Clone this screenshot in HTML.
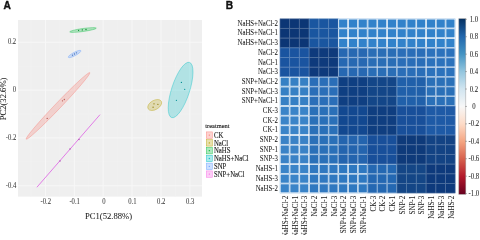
<!DOCTYPE html><html><head><meta charset="utf-8"><style>html,body{margin:0;padding:0;background:#fff;width:480px;height:235px;overflow:hidden}svg{display:block;will-change:transform}text{font-family:"Liberation Serif",serif}</style></head><body>
<svg width="480" height="235" viewBox="0 0 480 235">
<text transform="translate(3.6 8.5)" style="font-family:'Liberation Sans',sans-serif;font-weight:bold;font-size:10.2px" fill="#111" stroke="#111" stroke-width="0.35">A</text>
<rect x="18" y="20" width="184" height="176.6" fill="#EFEFEF"/>
<line x1="31.03" y1="20" x2="31.03" y2="196.6" stroke="#F3F3F3" stroke-width="0.5"/>
<line x1="59.90" y1="20" x2="59.90" y2="196.6" stroke="#F3F3F3" stroke-width="0.5"/>
<line x1="88.77" y1="20" x2="88.77" y2="196.6" stroke="#F3F3F3" stroke-width="0.5"/>
<line x1="117.64" y1="20" x2="117.64" y2="196.6" stroke="#F3F3F3" stroke-width="0.5"/>
<line x1="146.51" y1="20" x2="146.51" y2="196.6" stroke="#F3F3F3" stroke-width="0.5"/>
<line x1="175.38" y1="20" x2="175.38" y2="196.6" stroke="#F3F3F3" stroke-width="0.5"/>
<line x1="18" y1="66.20" x2="202" y2="66.20" stroke="#F3F3F3" stroke-width="0.5"/>
<line x1="18" y1="114.00" x2="202" y2="114.00" stroke="#F3F3F3" stroke-width="0.5"/>
<line x1="18" y1="161.80" x2="202" y2="161.80" stroke="#F3F3F3" stroke-width="0.5"/>
<line x1="45.46" y1="20" x2="45.46" y2="196.6" stroke="#F7F7F7" stroke-width="1"/>
<line x1="74.33" y1="20" x2="74.33" y2="196.6" stroke="#F7F7F7" stroke-width="1"/>
<line x1="103.20" y1="20" x2="103.20" y2="196.6" stroke="#F7F7F7" stroke-width="1"/>
<line x1="132.07" y1="20" x2="132.07" y2="196.6" stroke="#F7F7F7" stroke-width="1"/>
<line x1="160.94" y1="20" x2="160.94" y2="196.6" stroke="#F7F7F7" stroke-width="1"/>
<line x1="189.81" y1="20" x2="189.81" y2="196.6" stroke="#F7F7F7" stroke-width="1"/>
<line x1="18" y1="42.30" x2="202" y2="42.30" stroke="#F7F7F7" stroke-width="1"/>
<line x1="18" y1="90.10" x2="202" y2="90.10" stroke="#F7F7F7" stroke-width="1"/>
<line x1="18" y1="137.90" x2="202" y2="137.90" stroke="#F7F7F7" stroke-width="1"/>
<line x1="18" y1="185.70" x2="202" y2="185.70" stroke="#F7F7F7" stroke-width="1"/>
<ellipse cx="58.0" cy="105.9" rx="46.0" ry="2.9" transform="rotate(-46.3 58.0 105.9)" fill="#F8766D" fill-opacity="0.26" stroke="#F8766D" stroke-opacity="0.7" stroke-width="0.5"/>
<circle cx="64.3" cy="99.5" r="0.65" fill="#ba5851"/>
<circle cx="62.5" cy="100.8" r="0.65" fill="#ba5851"/>
<circle cx="47.2" cy="118.4" r="0.65" fill="#ba5851"/>
<ellipse cx="154.7" cy="105.0" rx="7.6" ry="4.6" transform="rotate(-30 154.7 105.0)" fill="#B79F00" fill-opacity="0.26" stroke="#B79F00" stroke-opacity="0.7" stroke-width="0.5"/>
<circle cx="154" cy="103.8" r="0.65" fill="#897700"/>
<circle cx="157.9" cy="104.3" r="0.65" fill="#897700"/>
<circle cx="153.1" cy="107.2" r="0.65" fill="#897700"/>
<ellipse cx="83.0" cy="30.0" rx="13.4" ry="1.5" transform="rotate(-8 83.0 30.0)" fill="#00BA38" fill-opacity="0.26" stroke="#00BA38" stroke-opacity="0.7" stroke-width="0.5"/>
<circle cx="78.6" cy="30.3" r="0.65" fill="#008b2a"/>
<circle cx="86" cy="29.5" r="0.65" fill="#008b2a"/>
<circle cx="82.3" cy="29.9" r="0.65" fill="#008b2a"/>
<ellipse cx="180.6" cy="90.0" rx="29.0" ry="9.0" transform="rotate(-72 180.6 90.0)" fill="#00BFC4" fill-opacity="0.26" stroke="#00BFC4" stroke-opacity="0.7" stroke-width="0.5"/>
<circle cx="181.4" cy="82.4" r="0.65" fill="#008f93"/>
<circle cx="184.7" cy="89.3" r="0.65" fill="#008f93"/>
<circle cx="176.4" cy="100.3" r="0.65" fill="#008f93"/>
<ellipse cx="74.6" cy="54.0" rx="7.1" ry="1.7" transform="rotate(-28 74.6 54.0)" fill="#619CFF" fill-opacity="0.26" stroke="#619CFF" stroke-opacity="0.7" stroke-width="0.5"/>
<circle cx="72.5" cy="55.2" r="0.65" fill="#4875bf"/>
<circle cx="76.5" cy="52.8" r="0.65" fill="#4875bf"/>
<circle cx="74.5" cy="54" r="0.65" fill="#4875bf"/>
<line x1="20.35" y1="150.95" x2="116.55" y2="150.95" transform="rotate(-49 68.45 150.95)" stroke="#DE62E4" stroke-opacity="0.95" stroke-width="0.8"/>
<circle cx="79" cy="139.5" r="0.65" fill="#a649ab"/>
<circle cx="60" cy="161" r="0.65" fill="#a649ab"/>
<circle cx="70" cy="149" r="0.65" fill="#a649ab"/>
<text transform="translate(45.76 203.60) scale(0.9 1)" font-size="7.4" fill="#3a3a3a" stroke="#3a3a3a" stroke-width="0.05" text-anchor="middle">-0.2</text>
<text transform="translate(74.63 203.60) scale(0.9 1)" font-size="7.4" fill="#3a3a3a" stroke="#3a3a3a" stroke-width="0.05" text-anchor="middle">-0.1</text>
<text transform="translate(104.00 203.60) scale(0.9 1)" font-size="7.4" fill="#3a3a3a" stroke="#3a3a3a" stroke-width="0.05" text-anchor="middle">0</text>
<text transform="translate(132.37 203.60) scale(0.9 1)" font-size="7.4" fill="#3a3a3a" stroke="#3a3a3a" stroke-width="0.05" text-anchor="middle">0.1</text>
<text transform="translate(161.24 203.60) scale(0.9 1)" font-size="7.4" fill="#3a3a3a" stroke="#3a3a3a" stroke-width="0.05" text-anchor="middle">0.2</text>
<text transform="translate(190.11 203.60) scale(0.9 1)" font-size="7.4" fill="#3a3a3a" stroke="#3a3a3a" stroke-width="0.05" text-anchor="middle">0.3</text>
<text transform="translate(16.20 44.40) scale(0.9 1)" font-size="7.4" fill="#3a3a3a" stroke="#3a3a3a" stroke-width="0.05" text-anchor="end">0.2</text>
<text transform="translate(16.20 92.20) scale(0.9 1)" font-size="7.4" fill="#3a3a3a" stroke="#3a3a3a" stroke-width="0.05" text-anchor="end">0</text>
<text transform="translate(16.20 140.00) scale(0.9 1)" font-size="7.4" fill="#3a3a3a" stroke="#3a3a3a" stroke-width="0.05" text-anchor="end">-0.2</text>
<text transform="translate(16.20 187.80) scale(0.9 1)" font-size="7.4" fill="#3a3a3a" stroke="#3a3a3a" stroke-width="0.05" text-anchor="end">-0.4</text>
<text transform="translate(85.00 218.60)" font-size="8.6" fill="#222" stroke="#222" stroke-width="0.05">PC1(52.88%)</text>
<text transform="translate(5.70 98.95) rotate(-90)" font-size="8.6" fill="#222" stroke="#222" stroke-width="0.05" text-anchor="middle">PC2(32.6%)</text>
<text transform="translate(205.30 127.60) scale(0.92 1)" font-size="7.0" fill="#222" stroke="#222" stroke-width="0.14">treatment</text>
<rect x="206.3" y="131.90" width="6" height="6.4" fill="#F8766D" fill-opacity="0.32" stroke="#F8766D" stroke-opacity="0.75" stroke-width="0.55"/>
<circle cx="209.3" cy="135.10" r="0.65" fill="#F8766D"/>
<text transform="translate(214.00 137.70) scale(0.9 1)" font-size="7.5" fill="#1a1a1a" stroke="#1a1a1a" stroke-width="0.12">CK</text>
<rect x="206.3" y="139.70" width="6" height="6.4" fill="#B79F00" fill-opacity="0.32" stroke="#B79F00" stroke-opacity="0.75" stroke-width="0.55"/>
<circle cx="209.3" cy="142.90" r="0.65" fill="#B79F00"/>
<text transform="translate(214.00 145.50) scale(0.9 1)" font-size="7.5" fill="#1a1a1a" stroke="#1a1a1a" stroke-width="0.12">NaCl</text>
<rect x="206.3" y="147.50" width="6" height="6.4" fill="#00BA38" fill-opacity="0.32" stroke="#00BA38" stroke-opacity="0.75" stroke-width="0.55"/>
<circle cx="209.3" cy="150.70" r="0.65" fill="#00BA38"/>
<text transform="translate(214.00 153.30) scale(0.9 1)" font-size="7.5" fill="#1a1a1a" stroke="#1a1a1a" stroke-width="0.12">NaHS</text>
<rect x="206.3" y="155.30" width="6" height="6.4" fill="#00BFC4" fill-opacity="0.32" stroke="#00BFC4" stroke-opacity="0.75" stroke-width="0.55"/>
<circle cx="209.3" cy="158.50" r="0.65" fill="#00BFC4"/>
<text transform="translate(214.00 161.10) scale(0.9 1)" font-size="7.5" fill="#1a1a1a" stroke="#1a1a1a" stroke-width="0.12">NaHS+NaCl</text>
<rect x="206.3" y="163.10" width="6" height="6.4" fill="#619CFF" fill-opacity="0.32" stroke="#619CFF" stroke-opacity="0.75" stroke-width="0.55"/>
<circle cx="209.3" cy="166.30" r="0.65" fill="#619CFF"/>
<text transform="translate(214.00 168.90) scale(0.9 1)" font-size="7.5" fill="#1a1a1a" stroke="#1a1a1a" stroke-width="0.12">SNP</text>
<rect x="206.3" y="170.90" width="6" height="6.4" fill="#F564E3" fill-opacity="0.32" stroke="#F564E3" stroke-opacity="0.75" stroke-width="0.55"/>
<circle cx="209.3" cy="174.10" r="0.65" fill="#F564E3"/>
<text transform="translate(214.00 176.70) scale(0.9 1)" font-size="7.5" fill="#1a1a1a" stroke="#1a1a1a" stroke-width="0.12">SNP+NaCl</text>
<text transform="translate(225.8 8.5)" style="font-family:'Liberation Sans',sans-serif;font-weight:bold;font-size:10.2px" fill="#111" stroke="#111" stroke-width="0.35">B</text>
<rect x="279.85" y="18.70" width="9.75" height="9.69" fill="#0c3675"/>
<rect x="280.08" y="18.93" width="9.30" height="9.24" fill="none" stroke="#55729e" stroke-width="0.45"/>
<rect x="289.60" y="18.70" width="9.75" height="9.69" fill="#0c3675"/>
<rect x="289.82" y="18.93" width="9.30" height="9.24" fill="none" stroke="#55729e" stroke-width="0.45"/>
<rect x="299.34" y="18.70" width="9.75" height="9.69" fill="#0c3675"/>
<rect x="299.57" y="18.93" width="9.30" height="9.24" fill="none" stroke="#55729e" stroke-width="0.45"/>
<rect x="309.09" y="18.70" width="9.75" height="9.69" fill="#1a56a0"/>
<rect x="309.32" y="18.93" width="9.30" height="9.24" fill="none" stroke="#5f89bc" stroke-width="0.45"/>
<rect x="318.84" y="18.70" width="9.75" height="9.69" fill="#1a56a0"/>
<rect x="319.06" y="18.93" width="9.30" height="9.24" fill="none" stroke="#5f89bc" stroke-width="0.45"/>
<rect x="328.59" y="18.70" width="9.75" height="9.69" fill="#1a56a0"/>
<rect x="328.81" y="18.93" width="9.30" height="9.24" fill="none" stroke="#5f89bc" stroke-width="0.45"/>
<rect x="338.33" y="18.70" width="9.75" height="9.69" fill="#3282ca"/>
<rect x="338.71" y="19.07" width="9.00" height="8.94" fill="none" stroke="#ffffff" stroke-width="0.75"/>
<rect x="348.08" y="18.70" width="9.75" height="9.69" fill="#3282ca"/>
<rect x="348.46" y="19.07" width="9.00" height="8.94" fill="none" stroke="#ffffff" stroke-width="0.75"/>
<rect x="357.83" y="18.70" width="9.75" height="9.69" fill="#3282ca"/>
<rect x="358.20" y="19.07" width="9.00" height="8.94" fill="none" stroke="#ffffff" stroke-width="0.75"/>
<rect x="367.58" y="18.70" width="9.75" height="9.69" fill="#3282ca"/>
<rect x="367.95" y="19.07" width="9.00" height="8.94" fill="none" stroke="#ffffff" stroke-width="0.75"/>
<rect x="377.32" y="18.70" width="9.75" height="9.69" fill="#3282ca"/>
<rect x="377.70" y="19.07" width="9.00" height="8.94" fill="none" stroke="#ffffff" stroke-width="0.75"/>
<rect x="387.07" y="18.70" width="9.75" height="9.69" fill="#3282ca"/>
<rect x="387.44" y="19.07" width="9.00" height="8.94" fill="none" stroke="#ffffff" stroke-width="0.75"/>
<rect x="396.82" y="18.70" width="9.75" height="9.69" fill="#3282ca"/>
<rect x="397.19" y="19.07" width="9.00" height="8.94" fill="none" stroke="#ffffff" stroke-width="0.75"/>
<rect x="406.56" y="18.70" width="9.75" height="9.69" fill="#3282ca"/>
<rect x="406.94" y="19.07" width="9.00" height="8.94" fill="none" stroke="#ffffff" stroke-width="0.75"/>
<rect x="416.31" y="18.70" width="9.75" height="9.69" fill="#3282ca"/>
<rect x="416.69" y="19.07" width="9.00" height="8.94" fill="none" stroke="#ffffff" stroke-width="0.75"/>
<rect x="426.06" y="18.70" width="9.75" height="9.69" fill="#3282ca"/>
<rect x="426.43" y="19.07" width="9.00" height="8.94" fill="none" stroke="#ffffff" stroke-width="0.75"/>
<rect x="435.81" y="18.70" width="9.75" height="9.69" fill="#3282ca"/>
<rect x="436.18" y="19.07" width="9.00" height="8.94" fill="none" stroke="#ffffff" stroke-width="0.75"/>
<rect x="445.55" y="18.70" width="9.75" height="9.69" fill="#3282ca"/>
<rect x="445.93" y="19.07" width="9.00" height="8.94" fill="none" stroke="#ffffff" stroke-width="0.75"/>
<rect x="279.85" y="28.39" width="9.75" height="9.69" fill="#0c3675"/>
<rect x="280.08" y="28.62" width="9.30" height="9.24" fill="none" stroke="#55729e" stroke-width="0.45"/>
<rect x="289.60" y="28.39" width="9.75" height="9.69" fill="#0c3675"/>
<rect x="289.82" y="28.62" width="9.30" height="9.24" fill="none" stroke="#55729e" stroke-width="0.45"/>
<rect x="299.34" y="28.39" width="9.75" height="9.69" fill="#0c3675"/>
<rect x="299.57" y="28.62" width="9.30" height="9.24" fill="none" stroke="#55729e" stroke-width="0.45"/>
<rect x="309.09" y="28.39" width="9.75" height="9.69" fill="#1a56a0"/>
<rect x="309.32" y="28.62" width="9.30" height="9.24" fill="none" stroke="#5f89bc" stroke-width="0.45"/>
<rect x="318.84" y="28.39" width="9.75" height="9.69" fill="#1a56a0"/>
<rect x="319.06" y="28.62" width="9.30" height="9.24" fill="none" stroke="#5f89bc" stroke-width="0.45"/>
<rect x="328.59" y="28.39" width="9.75" height="9.69" fill="#1a56a0"/>
<rect x="328.81" y="28.62" width="9.30" height="9.24" fill="none" stroke="#5f89bc" stroke-width="0.45"/>
<rect x="338.33" y="28.39" width="9.75" height="9.69" fill="#3282ca"/>
<rect x="338.71" y="28.77" width="9.00" height="8.94" fill="none" stroke="#ffffff" stroke-width="0.75"/>
<rect x="348.08" y="28.39" width="9.75" height="9.69" fill="#3282ca"/>
<rect x="348.46" y="28.77" width="9.00" height="8.94" fill="none" stroke="#ffffff" stroke-width="0.75"/>
<rect x="357.83" y="28.39" width="9.75" height="9.69" fill="#3282ca"/>
<rect x="358.20" y="28.77" width="9.00" height="8.94" fill="none" stroke="#ffffff" stroke-width="0.75"/>
<rect x="367.58" y="28.39" width="9.75" height="9.69" fill="#3282ca"/>
<rect x="367.95" y="28.77" width="9.00" height="8.94" fill="none" stroke="#ffffff" stroke-width="0.75"/>
<rect x="377.32" y="28.39" width="9.75" height="9.69" fill="#3282ca"/>
<rect x="377.70" y="28.77" width="9.00" height="8.94" fill="none" stroke="#ffffff" stroke-width="0.75"/>
<rect x="387.07" y="28.39" width="9.75" height="9.69" fill="#3282ca"/>
<rect x="387.44" y="28.77" width="9.00" height="8.94" fill="none" stroke="#ffffff" stroke-width="0.75"/>
<rect x="396.82" y="28.39" width="9.75" height="9.69" fill="#3282ca"/>
<rect x="397.19" y="28.77" width="9.00" height="8.94" fill="none" stroke="#ffffff" stroke-width="0.75"/>
<rect x="406.56" y="28.39" width="9.75" height="9.69" fill="#3282ca"/>
<rect x="406.94" y="28.77" width="9.00" height="8.94" fill="none" stroke="#ffffff" stroke-width="0.75"/>
<rect x="416.31" y="28.39" width="9.75" height="9.69" fill="#3282ca"/>
<rect x="416.69" y="28.77" width="9.00" height="8.94" fill="none" stroke="#ffffff" stroke-width="0.75"/>
<rect x="426.06" y="28.39" width="9.75" height="9.69" fill="#3282ca"/>
<rect x="426.43" y="28.77" width="9.00" height="8.94" fill="none" stroke="#ffffff" stroke-width="0.75"/>
<rect x="435.81" y="28.39" width="9.75" height="9.69" fill="#3282ca"/>
<rect x="436.18" y="28.77" width="9.00" height="8.94" fill="none" stroke="#ffffff" stroke-width="0.75"/>
<rect x="445.55" y="28.39" width="9.75" height="9.69" fill="#3282ca"/>
<rect x="445.93" y="28.77" width="9.00" height="8.94" fill="none" stroke="#ffffff" stroke-width="0.75"/>
<rect x="279.85" y="38.09" width="9.75" height="9.69" fill="#0c3675"/>
<rect x="280.08" y="38.31" width="9.30" height="9.24" fill="none" stroke="#55729e" stroke-width="0.45"/>
<rect x="289.60" y="38.09" width="9.75" height="9.69" fill="#0c3675"/>
<rect x="289.82" y="38.31" width="9.30" height="9.24" fill="none" stroke="#55729e" stroke-width="0.45"/>
<rect x="299.34" y="38.09" width="9.75" height="9.69" fill="#0c3675"/>
<rect x="299.57" y="38.31" width="9.30" height="9.24" fill="none" stroke="#55729e" stroke-width="0.45"/>
<rect x="309.09" y="38.09" width="9.75" height="9.69" fill="#1a56a0"/>
<rect x="309.32" y="38.31" width="9.30" height="9.24" fill="none" stroke="#5f89bc" stroke-width="0.45"/>
<rect x="318.84" y="38.09" width="9.75" height="9.69" fill="#1a56a0"/>
<rect x="319.06" y="38.31" width="9.30" height="9.24" fill="none" stroke="#5f89bc" stroke-width="0.45"/>
<rect x="328.59" y="38.09" width="9.75" height="9.69" fill="#1a56a0"/>
<rect x="328.81" y="38.31" width="9.30" height="9.24" fill="none" stroke="#5f89bc" stroke-width="0.45"/>
<rect x="338.33" y="38.09" width="9.75" height="9.69" fill="#3282ca"/>
<rect x="338.71" y="38.46" width="9.00" height="8.94" fill="none" stroke="#ffffff" stroke-width="0.75"/>
<rect x="348.08" y="38.09" width="9.75" height="9.69" fill="#3282ca"/>
<rect x="348.46" y="38.46" width="9.00" height="8.94" fill="none" stroke="#ffffff" stroke-width="0.75"/>
<rect x="357.83" y="38.09" width="9.75" height="9.69" fill="#3282ca"/>
<rect x="358.20" y="38.46" width="9.00" height="8.94" fill="none" stroke="#ffffff" stroke-width="0.75"/>
<rect x="367.58" y="38.09" width="9.75" height="9.69" fill="#3282ca"/>
<rect x="367.95" y="38.46" width="9.00" height="8.94" fill="none" stroke="#ffffff" stroke-width="0.75"/>
<rect x="377.32" y="38.09" width="9.75" height="9.69" fill="#3282ca"/>
<rect x="377.70" y="38.46" width="9.00" height="8.94" fill="none" stroke="#ffffff" stroke-width="0.75"/>
<rect x="387.07" y="38.09" width="9.75" height="9.69" fill="#3282ca"/>
<rect x="387.44" y="38.46" width="9.00" height="8.94" fill="none" stroke="#ffffff" stroke-width="0.75"/>
<rect x="396.82" y="38.09" width="9.75" height="9.69" fill="#3282ca"/>
<rect x="397.19" y="38.46" width="9.00" height="8.94" fill="none" stroke="#ffffff" stroke-width="0.75"/>
<rect x="406.56" y="38.09" width="9.75" height="9.69" fill="#3282ca"/>
<rect x="406.94" y="38.46" width="9.00" height="8.94" fill="none" stroke="#ffffff" stroke-width="0.75"/>
<rect x="416.31" y="38.09" width="9.75" height="9.69" fill="#3282ca"/>
<rect x="416.69" y="38.46" width="9.00" height="8.94" fill="none" stroke="#ffffff" stroke-width="0.75"/>
<rect x="426.06" y="38.09" width="9.75" height="9.69" fill="#3282ca"/>
<rect x="426.43" y="38.46" width="9.00" height="8.94" fill="none" stroke="#ffffff" stroke-width="0.75"/>
<rect x="435.81" y="38.09" width="9.75" height="9.69" fill="#3282ca"/>
<rect x="436.18" y="38.46" width="9.00" height="8.94" fill="none" stroke="#ffffff" stroke-width="0.75"/>
<rect x="445.55" y="38.09" width="9.75" height="9.69" fill="#3282ca"/>
<rect x="445.93" y="38.46" width="9.00" height="8.94" fill="none" stroke="#ffffff" stroke-width="0.75"/>
<rect x="279.85" y="47.78" width="9.75" height="9.69" fill="#1a54a0"/>
<rect x="280.08" y="48.01" width="9.30" height="9.24" fill="none" stroke="#5f87bc" stroke-width="0.45"/>
<rect x="289.60" y="47.78" width="9.75" height="9.69" fill="#1a54a0"/>
<rect x="289.82" y="48.01" width="9.30" height="9.24" fill="none" stroke="#5f87bc" stroke-width="0.45"/>
<rect x="299.34" y="47.78" width="9.75" height="9.69" fill="#1a54a0"/>
<rect x="299.57" y="48.01" width="9.30" height="9.24" fill="none" stroke="#5f87bc" stroke-width="0.45"/>
<rect x="309.09" y="47.78" width="9.75" height="9.69" fill="#0e3a7c"/>
<rect x="309.32" y="48.01" width="9.30" height="9.24" fill="none" stroke="#5675a3" stroke-width="0.45"/>
<rect x="318.84" y="47.78" width="9.75" height="9.69" fill="#0e3a7c"/>
<rect x="319.06" y="48.01" width="9.30" height="9.24" fill="none" stroke="#5675a3" stroke-width="0.45"/>
<rect x="328.59" y="47.78" width="9.75" height="9.69" fill="#0e3a7c"/>
<rect x="328.81" y="48.01" width="9.30" height="9.24" fill="none" stroke="#5675a3" stroke-width="0.45"/>
<rect x="338.33" y="47.78" width="9.75" height="9.69" fill="#2768b2"/>
<rect x="338.63" y="48.08" width="9.16" height="9.11" fill="none" stroke="#aec6e2" stroke-width="0.59"/>
<rect x="348.08" y="47.78" width="9.75" height="9.69" fill="#2768b2"/>
<rect x="348.38" y="48.08" width="9.16" height="9.11" fill="none" stroke="#aec6e2" stroke-width="0.59"/>
<rect x="357.83" y="47.78" width="9.75" height="9.69" fill="#2768b2"/>
<rect x="358.12" y="48.08" width="9.16" height="9.11" fill="none" stroke="#aec6e2" stroke-width="0.59"/>
<rect x="367.58" y="47.78" width="9.75" height="9.69" fill="#2a6eb6"/>
<rect x="367.90" y="48.10" width="9.11" height="9.05" fill="none" stroke="#c9daed" stroke-width="0.64"/>
<rect x="377.32" y="47.78" width="9.75" height="9.69" fill="#2a6eb6"/>
<rect x="377.64" y="48.10" width="9.11" height="9.05" fill="none" stroke="#c9daed" stroke-width="0.64"/>
<rect x="387.07" y="47.78" width="9.75" height="9.69" fill="#2a6eb6"/>
<rect x="387.39" y="48.10" width="9.11" height="9.05" fill="none" stroke="#c9daed" stroke-width="0.64"/>
<rect x="396.82" y="47.78" width="9.75" height="9.69" fill="#2a6eb8"/>
<rect x="397.14" y="48.11" width="9.10" height="9.05" fill="none" stroke="#cadbed" stroke-width="0.64"/>
<rect x="406.56" y="47.78" width="9.75" height="9.69" fill="#2a6eb8"/>
<rect x="406.89" y="48.11" width="9.10" height="9.05" fill="none" stroke="#cadbed" stroke-width="0.64"/>
<rect x="416.31" y="47.78" width="9.75" height="9.69" fill="#2a6eb8"/>
<rect x="416.63" y="48.11" width="9.10" height="9.05" fill="none" stroke="#cadbed" stroke-width="0.64"/>
<rect x="426.06" y="47.78" width="9.75" height="9.69" fill="#2c72bc"/>
<rect x="426.40" y="48.12" width="9.07" height="9.01" fill="none" stroke="#dde8f4" stroke-width="0.68"/>
<rect x="435.81" y="47.78" width="9.75" height="9.69" fill="#2c72bc"/>
<rect x="436.15" y="48.12" width="9.07" height="9.01" fill="none" stroke="#dde8f4" stroke-width="0.68"/>
<rect x="445.55" y="47.78" width="9.75" height="9.69" fill="#2c72bc"/>
<rect x="445.89" y="48.12" width="9.07" height="9.01" fill="none" stroke="#dde8f4" stroke-width="0.68"/>
<rect x="279.85" y="57.48" width="9.75" height="9.69" fill="#1a54a0"/>
<rect x="280.08" y="57.70" width="9.30" height="9.24" fill="none" stroke="#5f87bc" stroke-width="0.45"/>
<rect x="289.60" y="57.48" width="9.75" height="9.69" fill="#1a54a0"/>
<rect x="289.82" y="57.70" width="9.30" height="9.24" fill="none" stroke="#5f87bc" stroke-width="0.45"/>
<rect x="299.34" y="57.48" width="9.75" height="9.69" fill="#1a54a0"/>
<rect x="299.57" y="57.70" width="9.30" height="9.24" fill="none" stroke="#5f87bc" stroke-width="0.45"/>
<rect x="309.09" y="57.48" width="9.75" height="9.69" fill="#0e3a7c"/>
<rect x="309.32" y="57.70" width="9.30" height="9.24" fill="none" stroke="#5675a3" stroke-width="0.45"/>
<rect x="318.84" y="57.48" width="9.75" height="9.69" fill="#0e3a7c"/>
<rect x="319.06" y="57.70" width="9.30" height="9.24" fill="none" stroke="#5675a3" stroke-width="0.45"/>
<rect x="328.59" y="57.48" width="9.75" height="9.69" fill="#0e3a7c"/>
<rect x="328.81" y="57.70" width="9.30" height="9.24" fill="none" stroke="#5675a3" stroke-width="0.45"/>
<rect x="338.33" y="57.48" width="9.75" height="9.69" fill="#2768b2"/>
<rect x="338.63" y="57.77" width="9.16" height="9.11" fill="none" stroke="#aec6e2" stroke-width="0.59"/>
<rect x="348.08" y="57.48" width="9.75" height="9.69" fill="#2768b2"/>
<rect x="348.38" y="57.77" width="9.16" height="9.11" fill="none" stroke="#aec6e2" stroke-width="0.59"/>
<rect x="357.83" y="57.48" width="9.75" height="9.69" fill="#2768b2"/>
<rect x="358.12" y="57.77" width="9.16" height="9.11" fill="none" stroke="#aec6e2" stroke-width="0.59"/>
<rect x="367.58" y="57.48" width="9.75" height="9.69" fill="#2a6eb6"/>
<rect x="367.90" y="57.80" width="9.11" height="9.05" fill="none" stroke="#c9daed" stroke-width="0.64"/>
<rect x="377.32" y="57.48" width="9.75" height="9.69" fill="#2a6eb6"/>
<rect x="377.64" y="57.80" width="9.11" height="9.05" fill="none" stroke="#c9daed" stroke-width="0.64"/>
<rect x="387.07" y="57.48" width="9.75" height="9.69" fill="#2a6eb6"/>
<rect x="387.39" y="57.80" width="9.11" height="9.05" fill="none" stroke="#c9daed" stroke-width="0.64"/>
<rect x="396.82" y="57.48" width="9.75" height="9.69" fill="#2a6eb8"/>
<rect x="397.14" y="57.80" width="9.10" height="9.05" fill="none" stroke="#cadbed" stroke-width="0.64"/>
<rect x="406.56" y="57.48" width="9.75" height="9.69" fill="#2a6eb8"/>
<rect x="406.89" y="57.80" width="9.10" height="9.05" fill="none" stroke="#cadbed" stroke-width="0.64"/>
<rect x="416.31" y="57.48" width="9.75" height="9.69" fill="#2a6eb8"/>
<rect x="416.63" y="57.80" width="9.10" height="9.05" fill="none" stroke="#cadbed" stroke-width="0.64"/>
<rect x="426.06" y="57.48" width="9.75" height="9.69" fill="#2c72bc"/>
<rect x="426.40" y="57.82" width="9.07" height="9.01" fill="none" stroke="#dde8f4" stroke-width="0.68"/>
<rect x="435.81" y="57.48" width="9.75" height="9.69" fill="#2c72bc"/>
<rect x="436.15" y="57.82" width="9.07" height="9.01" fill="none" stroke="#dde8f4" stroke-width="0.68"/>
<rect x="445.55" y="57.48" width="9.75" height="9.69" fill="#2c72bc"/>
<rect x="445.89" y="57.82" width="9.07" height="9.01" fill="none" stroke="#dde8f4" stroke-width="0.68"/>
<rect x="279.85" y="67.17" width="9.75" height="9.69" fill="#1a54a0"/>
<rect x="280.08" y="67.40" width="9.30" height="9.24" fill="none" stroke="#5f87bc" stroke-width="0.45"/>
<rect x="289.60" y="67.17" width="9.75" height="9.69" fill="#1a54a0"/>
<rect x="289.82" y="67.40" width="9.30" height="9.24" fill="none" stroke="#5f87bc" stroke-width="0.45"/>
<rect x="299.34" y="67.17" width="9.75" height="9.69" fill="#1a54a0"/>
<rect x="299.57" y="67.40" width="9.30" height="9.24" fill="none" stroke="#5f87bc" stroke-width="0.45"/>
<rect x="309.09" y="67.17" width="9.75" height="9.69" fill="#0e3a7c"/>
<rect x="309.32" y="67.40" width="9.30" height="9.24" fill="none" stroke="#5675a3" stroke-width="0.45"/>
<rect x="318.84" y="67.17" width="9.75" height="9.69" fill="#0e3a7c"/>
<rect x="319.06" y="67.40" width="9.30" height="9.24" fill="none" stroke="#5675a3" stroke-width="0.45"/>
<rect x="328.59" y="67.17" width="9.75" height="9.69" fill="#0e3a7c"/>
<rect x="328.81" y="67.40" width="9.30" height="9.24" fill="none" stroke="#5675a3" stroke-width="0.45"/>
<rect x="338.33" y="67.17" width="9.75" height="9.69" fill="#2768b2"/>
<rect x="338.63" y="67.47" width="9.16" height="9.11" fill="none" stroke="#aec6e2" stroke-width="0.59"/>
<rect x="348.08" y="67.17" width="9.75" height="9.69" fill="#2768b2"/>
<rect x="348.38" y="67.47" width="9.16" height="9.11" fill="none" stroke="#aec6e2" stroke-width="0.59"/>
<rect x="357.83" y="67.17" width="9.75" height="9.69" fill="#2768b2"/>
<rect x="358.12" y="67.47" width="9.16" height="9.11" fill="none" stroke="#aec6e2" stroke-width="0.59"/>
<rect x="367.58" y="67.17" width="9.75" height="9.69" fill="#2a6eb6"/>
<rect x="367.90" y="67.49" width="9.11" height="9.05" fill="none" stroke="#c9daed" stroke-width="0.64"/>
<rect x="377.32" y="67.17" width="9.75" height="9.69" fill="#2a6eb6"/>
<rect x="377.64" y="67.49" width="9.11" height="9.05" fill="none" stroke="#c9daed" stroke-width="0.64"/>
<rect x="387.07" y="67.17" width="9.75" height="9.69" fill="#2a6eb6"/>
<rect x="387.39" y="67.49" width="9.11" height="9.05" fill="none" stroke="#c9daed" stroke-width="0.64"/>
<rect x="396.82" y="67.17" width="9.75" height="9.69" fill="#2a6eb8"/>
<rect x="397.14" y="67.49" width="9.10" height="9.05" fill="none" stroke="#cadbed" stroke-width="0.64"/>
<rect x="406.56" y="67.17" width="9.75" height="9.69" fill="#2a6eb8"/>
<rect x="406.89" y="67.49" width="9.10" height="9.05" fill="none" stroke="#cadbed" stroke-width="0.64"/>
<rect x="416.31" y="67.17" width="9.75" height="9.69" fill="#2a6eb8"/>
<rect x="416.63" y="67.49" width="9.10" height="9.05" fill="none" stroke="#cadbed" stroke-width="0.64"/>
<rect x="426.06" y="67.17" width="9.75" height="9.69" fill="#2c72bc"/>
<rect x="426.40" y="67.51" width="9.07" height="9.01" fill="none" stroke="#dde8f4" stroke-width="0.68"/>
<rect x="435.81" y="67.17" width="9.75" height="9.69" fill="#2c72bc"/>
<rect x="436.15" y="67.51" width="9.07" height="9.01" fill="none" stroke="#dde8f4" stroke-width="0.68"/>
<rect x="445.55" y="67.17" width="9.75" height="9.69" fill="#2c72bc"/>
<rect x="445.89" y="67.51" width="9.07" height="9.01" fill="none" stroke="#dde8f4" stroke-width="0.68"/>
<rect x="279.85" y="76.87" width="9.75" height="9.69" fill="#3680c4"/>
<rect x="280.23" y="77.24" width="9.00" height="8.94" fill="none" stroke="#ffffff" stroke-width="0.75"/>
<rect x="289.60" y="76.87" width="9.75" height="9.69" fill="#3680c4"/>
<rect x="289.97" y="77.24" width="9.00" height="8.94" fill="none" stroke="#ffffff" stroke-width="0.75"/>
<rect x="299.34" y="76.87" width="9.75" height="9.69" fill="#3680c4"/>
<rect x="299.72" y="77.24" width="9.00" height="8.94" fill="none" stroke="#ffffff" stroke-width="0.75"/>
<rect x="309.09" y="76.87" width="9.75" height="9.69" fill="#2a6eb8"/>
<rect x="309.41" y="77.19" width="9.10" height="9.05" fill="none" stroke="#cadbed" stroke-width="0.64"/>
<rect x="318.84" y="76.87" width="9.75" height="9.69" fill="#2a6eb8"/>
<rect x="319.16" y="77.19" width="9.10" height="9.05" fill="none" stroke="#cadbed" stroke-width="0.64"/>
<rect x="328.59" y="76.87" width="9.75" height="9.69" fill="#2a6eb8"/>
<rect x="328.91" y="77.19" width="9.10" height="9.05" fill="none" stroke="#cadbed" stroke-width="0.64"/>
<rect x="338.33" y="76.87" width="9.75" height="9.69" fill="#0f3f82"/>
<rect x="338.56" y="77.09" width="9.30" height="9.24" fill="none" stroke="#5779a8" stroke-width="0.45"/>
<rect x="348.08" y="76.87" width="9.75" height="9.69" fill="#0f3f82"/>
<rect x="348.31" y="77.09" width="9.30" height="9.24" fill="none" stroke="#5779a8" stroke-width="0.45"/>
<rect x="357.83" y="76.87" width="9.75" height="9.69" fill="#0f3f82"/>
<rect x="358.05" y="77.09" width="9.30" height="9.24" fill="none" stroke="#5779a8" stroke-width="0.45"/>
<rect x="367.58" y="76.87" width="9.75" height="9.69" fill="#134688"/>
<rect x="367.80" y="77.09" width="9.30" height="9.24" fill="none" stroke="#5a7eac" stroke-width="0.45"/>
<rect x="377.32" y="76.87" width="9.75" height="9.69" fill="#134688"/>
<rect x="377.55" y="77.09" width="9.30" height="9.24" fill="none" stroke="#5a7eac" stroke-width="0.45"/>
<rect x="387.07" y="76.87" width="9.75" height="9.69" fill="#134688"/>
<rect x="387.29" y="77.09" width="9.30" height="9.24" fill="none" stroke="#5a7eac" stroke-width="0.45"/>
<rect x="396.82" y="76.87" width="9.75" height="9.69" fill="#2060aa"/>
<rect x="397.07" y="77.12" width="9.24" height="9.19" fill="none" stroke="#80a5cf" stroke-width="0.51"/>
<rect x="406.56" y="76.87" width="9.75" height="9.69" fill="#2060aa"/>
<rect x="406.82" y="77.12" width="9.24" height="9.19" fill="none" stroke="#80a5cf" stroke-width="0.51"/>
<rect x="416.31" y="76.87" width="9.75" height="9.69" fill="#2060aa"/>
<rect x="416.56" y="77.12" width="9.24" height="9.19" fill="none" stroke="#80a5cf" stroke-width="0.51"/>
<rect x="426.06" y="76.87" width="9.75" height="9.69" fill="#2a70b8"/>
<rect x="426.39" y="77.19" width="9.09" height="9.04" fill="none" stroke="#d1e0f0" stroke-width="0.66"/>
<rect x="435.81" y="76.87" width="9.75" height="9.69" fill="#2a70b8"/>
<rect x="436.13" y="77.19" width="9.09" height="9.04" fill="none" stroke="#d1e0f0" stroke-width="0.66"/>
<rect x="445.55" y="76.87" width="9.75" height="9.69" fill="#2a70b8"/>
<rect x="445.88" y="77.19" width="9.09" height="9.04" fill="none" stroke="#d1e0f0" stroke-width="0.66"/>
<rect x="279.85" y="86.56" width="9.75" height="9.69" fill="#3680c4"/>
<rect x="280.23" y="86.94" width="9.00" height="8.94" fill="none" stroke="#ffffff" stroke-width="0.75"/>
<rect x="289.60" y="86.56" width="9.75" height="9.69" fill="#3680c4"/>
<rect x="289.97" y="86.94" width="9.00" height="8.94" fill="none" stroke="#ffffff" stroke-width="0.75"/>
<rect x="299.34" y="86.56" width="9.75" height="9.69" fill="#3680c4"/>
<rect x="299.72" y="86.94" width="9.00" height="8.94" fill="none" stroke="#ffffff" stroke-width="0.75"/>
<rect x="309.09" y="86.56" width="9.75" height="9.69" fill="#2a6eb8"/>
<rect x="309.41" y="86.88" width="9.10" height="9.05" fill="none" stroke="#cadbed" stroke-width="0.64"/>
<rect x="318.84" y="86.56" width="9.75" height="9.69" fill="#2a6eb8"/>
<rect x="319.16" y="86.88" width="9.10" height="9.05" fill="none" stroke="#cadbed" stroke-width="0.64"/>
<rect x="328.59" y="86.56" width="9.75" height="9.69" fill="#2a6eb8"/>
<rect x="328.91" y="86.88" width="9.10" height="9.05" fill="none" stroke="#cadbed" stroke-width="0.64"/>
<rect x="338.33" y="86.56" width="9.75" height="9.69" fill="#0f3f82"/>
<rect x="338.56" y="86.79" width="9.30" height="9.24" fill="none" stroke="#5779a8" stroke-width="0.45"/>
<rect x="348.08" y="86.56" width="9.75" height="9.69" fill="#0f3f82"/>
<rect x="348.31" y="86.79" width="9.30" height="9.24" fill="none" stroke="#5779a8" stroke-width="0.45"/>
<rect x="357.83" y="86.56" width="9.75" height="9.69" fill="#0f3f82"/>
<rect x="358.05" y="86.79" width="9.30" height="9.24" fill="none" stroke="#5779a8" stroke-width="0.45"/>
<rect x="367.58" y="86.56" width="9.75" height="9.69" fill="#134688"/>
<rect x="367.80" y="86.79" width="9.30" height="9.24" fill="none" stroke="#5a7eac" stroke-width="0.45"/>
<rect x="377.32" y="86.56" width="9.75" height="9.69" fill="#134688"/>
<rect x="377.55" y="86.79" width="9.30" height="9.24" fill="none" stroke="#5a7eac" stroke-width="0.45"/>
<rect x="387.07" y="86.56" width="9.75" height="9.69" fill="#134688"/>
<rect x="387.29" y="86.79" width="9.30" height="9.24" fill="none" stroke="#5a7eac" stroke-width="0.45"/>
<rect x="396.82" y="86.56" width="9.75" height="9.69" fill="#2060aa"/>
<rect x="397.07" y="86.81" width="9.24" height="9.19" fill="none" stroke="#80a5cf" stroke-width="0.51"/>
<rect x="406.56" y="86.56" width="9.75" height="9.69" fill="#2060aa"/>
<rect x="406.82" y="86.81" width="9.24" height="9.19" fill="none" stroke="#80a5cf" stroke-width="0.51"/>
<rect x="416.31" y="86.56" width="9.75" height="9.69" fill="#2060aa"/>
<rect x="416.56" y="86.81" width="9.24" height="9.19" fill="none" stroke="#80a5cf" stroke-width="0.51"/>
<rect x="426.06" y="86.56" width="9.75" height="9.69" fill="#2a70b8"/>
<rect x="426.39" y="86.89" width="9.09" height="9.04" fill="none" stroke="#d1e0f0" stroke-width="0.66"/>
<rect x="435.81" y="86.56" width="9.75" height="9.69" fill="#2a70b8"/>
<rect x="436.13" y="86.89" width="9.09" height="9.04" fill="none" stroke="#d1e0f0" stroke-width="0.66"/>
<rect x="445.55" y="86.56" width="9.75" height="9.69" fill="#2a70b8"/>
<rect x="445.88" y="86.89" width="9.09" height="9.04" fill="none" stroke="#d1e0f0" stroke-width="0.66"/>
<rect x="279.85" y="96.26" width="9.75" height="9.69" fill="#3680c4"/>
<rect x="280.23" y="96.63" width="9.00" height="8.94" fill="none" stroke="#ffffff" stroke-width="0.75"/>
<rect x="289.60" y="96.26" width="9.75" height="9.69" fill="#3680c4"/>
<rect x="289.97" y="96.63" width="9.00" height="8.94" fill="none" stroke="#ffffff" stroke-width="0.75"/>
<rect x="299.34" y="96.26" width="9.75" height="9.69" fill="#3680c4"/>
<rect x="299.72" y="96.63" width="9.00" height="8.94" fill="none" stroke="#ffffff" stroke-width="0.75"/>
<rect x="309.09" y="96.26" width="9.75" height="9.69" fill="#2a6eb8"/>
<rect x="309.41" y="96.58" width="9.10" height="9.05" fill="none" stroke="#cadbed" stroke-width="0.64"/>
<rect x="318.84" y="96.26" width="9.75" height="9.69" fill="#2a6eb8"/>
<rect x="319.16" y="96.58" width="9.10" height="9.05" fill="none" stroke="#cadbed" stroke-width="0.64"/>
<rect x="328.59" y="96.26" width="9.75" height="9.69" fill="#2a6eb8"/>
<rect x="328.91" y="96.58" width="9.10" height="9.05" fill="none" stroke="#cadbed" stroke-width="0.64"/>
<rect x="338.33" y="96.26" width="9.75" height="9.69" fill="#0f3f82"/>
<rect x="338.56" y="96.48" width="9.30" height="9.24" fill="none" stroke="#5779a8" stroke-width="0.45"/>
<rect x="348.08" y="96.26" width="9.75" height="9.69" fill="#0f3f82"/>
<rect x="348.31" y="96.48" width="9.30" height="9.24" fill="none" stroke="#5779a8" stroke-width="0.45"/>
<rect x="357.83" y="96.26" width="9.75" height="9.69" fill="#0f3f82"/>
<rect x="358.05" y="96.48" width="9.30" height="9.24" fill="none" stroke="#5779a8" stroke-width="0.45"/>
<rect x="367.58" y="96.26" width="9.75" height="9.69" fill="#134688"/>
<rect x="367.80" y="96.48" width="9.30" height="9.24" fill="none" stroke="#5a7eac" stroke-width="0.45"/>
<rect x="377.32" y="96.26" width="9.75" height="9.69" fill="#134688"/>
<rect x="377.55" y="96.48" width="9.30" height="9.24" fill="none" stroke="#5a7eac" stroke-width="0.45"/>
<rect x="387.07" y="96.26" width="9.75" height="9.69" fill="#134688"/>
<rect x="387.29" y="96.48" width="9.30" height="9.24" fill="none" stroke="#5a7eac" stroke-width="0.45"/>
<rect x="396.82" y="96.26" width="9.75" height="9.69" fill="#2060aa"/>
<rect x="397.07" y="96.51" width="9.24" height="9.19" fill="none" stroke="#80a5cf" stroke-width="0.51"/>
<rect x="406.56" y="96.26" width="9.75" height="9.69" fill="#2060aa"/>
<rect x="406.82" y="96.51" width="9.24" height="9.19" fill="none" stroke="#80a5cf" stroke-width="0.51"/>
<rect x="416.31" y="96.26" width="9.75" height="9.69" fill="#2060aa"/>
<rect x="416.56" y="96.51" width="9.24" height="9.19" fill="none" stroke="#80a5cf" stroke-width="0.51"/>
<rect x="426.06" y="96.26" width="9.75" height="9.69" fill="#2a70b8"/>
<rect x="426.39" y="96.58" width="9.09" height="9.04" fill="none" stroke="#d1e0f0" stroke-width="0.66"/>
<rect x="435.81" y="96.26" width="9.75" height="9.69" fill="#2a70b8"/>
<rect x="436.13" y="96.58" width="9.09" height="9.04" fill="none" stroke="#d1e0f0" stroke-width="0.66"/>
<rect x="445.55" y="96.26" width="9.75" height="9.69" fill="#2a70b8"/>
<rect x="445.88" y="96.58" width="9.09" height="9.04" fill="none" stroke="#d1e0f0" stroke-width="0.66"/>
<rect x="279.85" y="105.95" width="9.75" height="9.69" fill="#3a84c8"/>
<rect x="280.23" y="106.33" width="9.00" height="8.94" fill="none" stroke="#ffffff" stroke-width="0.75"/>
<rect x="289.60" y="105.95" width="9.75" height="9.69" fill="#3a84c8"/>
<rect x="289.97" y="106.33" width="9.00" height="8.94" fill="none" stroke="#ffffff" stroke-width="0.75"/>
<rect x="299.34" y="105.95" width="9.75" height="9.69" fill="#3a84c8"/>
<rect x="299.72" y="106.33" width="9.00" height="8.94" fill="none" stroke="#ffffff" stroke-width="0.75"/>
<rect x="309.09" y="105.95" width="9.75" height="9.69" fill="#2a70b8"/>
<rect x="309.42" y="106.28" width="9.09" height="9.04" fill="none" stroke="#d1e0f0" stroke-width="0.66"/>
<rect x="318.84" y="105.95" width="9.75" height="9.69" fill="#2a70b8"/>
<rect x="319.17" y="106.28" width="9.09" height="9.04" fill="none" stroke="#d1e0f0" stroke-width="0.66"/>
<rect x="328.59" y="105.95" width="9.75" height="9.69" fill="#2a70b8"/>
<rect x="328.91" y="106.28" width="9.09" height="9.04" fill="none" stroke="#d1e0f0" stroke-width="0.66"/>
<rect x="338.33" y="105.95" width="9.75" height="9.69" fill="#124890"/>
<rect x="338.56" y="106.17" width="9.30" height="9.24" fill="none" stroke="#597fb1" stroke-width="0.45"/>
<rect x="348.08" y="105.95" width="9.75" height="9.69" fill="#124890"/>
<rect x="348.31" y="106.17" width="9.30" height="9.24" fill="none" stroke="#597fb1" stroke-width="0.45"/>
<rect x="357.83" y="105.95" width="9.75" height="9.69" fill="#124890"/>
<rect x="358.05" y="106.17" width="9.30" height="9.24" fill="none" stroke="#597fb1" stroke-width="0.45"/>
<rect x="367.58" y="105.95" width="9.75" height="9.69" fill="#0f3e80"/>
<rect x="367.80" y="106.17" width="9.30" height="9.24" fill="none" stroke="#5778a6" stroke-width="0.45"/>
<rect x="377.32" y="105.95" width="9.75" height="9.69" fill="#0f3e80"/>
<rect x="377.55" y="106.17" width="9.30" height="9.24" fill="none" stroke="#5778a6" stroke-width="0.45"/>
<rect x="387.07" y="105.95" width="9.75" height="9.69" fill="#0f3e80"/>
<rect x="387.29" y="106.17" width="9.30" height="9.24" fill="none" stroke="#5778a6" stroke-width="0.45"/>
<rect x="396.82" y="105.95" width="9.75" height="9.69" fill="#184f9a"/>
<rect x="397.04" y="106.17" width="9.30" height="9.24" fill="none" stroke="#5d84b8" stroke-width="0.45"/>
<rect x="406.56" y="105.95" width="9.75" height="9.69" fill="#184f9a"/>
<rect x="406.79" y="106.17" width="9.30" height="9.24" fill="none" stroke="#5d84b8" stroke-width="0.45"/>
<rect x="416.31" y="105.95" width="9.75" height="9.69" fill="#184f9a"/>
<rect x="416.54" y="106.17" width="9.30" height="9.24" fill="none" stroke="#5d84b8" stroke-width="0.45"/>
<rect x="426.06" y="105.95" width="9.75" height="9.69" fill="#1e5aa6"/>
<rect x="426.29" y="106.18" width="9.29" height="9.24" fill="none" stroke="#668ec2" stroke-width="0.46"/>
<rect x="435.81" y="105.95" width="9.75" height="9.69" fill="#1e5aa6"/>
<rect x="436.03" y="106.18" width="9.29" height="9.24" fill="none" stroke="#668ec2" stroke-width="0.46"/>
<rect x="445.55" y="105.95" width="9.75" height="9.69" fill="#1e5aa6"/>
<rect x="445.78" y="106.18" width="9.29" height="9.24" fill="none" stroke="#668ec2" stroke-width="0.46"/>
<rect x="279.85" y="115.64" width="9.75" height="9.69" fill="#3a84c8"/>
<rect x="280.23" y="116.02" width="9.00" height="8.94" fill="none" stroke="#ffffff" stroke-width="0.75"/>
<rect x="289.60" y="115.64" width="9.75" height="9.69" fill="#3a84c8"/>
<rect x="289.97" y="116.02" width="9.00" height="8.94" fill="none" stroke="#ffffff" stroke-width="0.75"/>
<rect x="299.34" y="115.64" width="9.75" height="9.69" fill="#3a84c8"/>
<rect x="299.72" y="116.02" width="9.00" height="8.94" fill="none" stroke="#ffffff" stroke-width="0.75"/>
<rect x="309.09" y="115.64" width="9.75" height="9.69" fill="#2a70b8"/>
<rect x="309.42" y="115.97" width="9.09" height="9.04" fill="none" stroke="#d1e0f0" stroke-width="0.66"/>
<rect x="318.84" y="115.64" width="9.75" height="9.69" fill="#2a70b8"/>
<rect x="319.17" y="115.97" width="9.09" height="9.04" fill="none" stroke="#d1e0f0" stroke-width="0.66"/>
<rect x="328.59" y="115.64" width="9.75" height="9.69" fill="#2a70b8"/>
<rect x="328.91" y="115.97" width="9.09" height="9.04" fill="none" stroke="#d1e0f0" stroke-width="0.66"/>
<rect x="338.33" y="115.64" width="9.75" height="9.69" fill="#124890"/>
<rect x="338.56" y="115.87" width="9.30" height="9.24" fill="none" stroke="#597fb1" stroke-width="0.45"/>
<rect x="348.08" y="115.64" width="9.75" height="9.69" fill="#124890"/>
<rect x="348.31" y="115.87" width="9.30" height="9.24" fill="none" stroke="#597fb1" stroke-width="0.45"/>
<rect x="357.83" y="115.64" width="9.75" height="9.69" fill="#124890"/>
<rect x="358.05" y="115.87" width="9.30" height="9.24" fill="none" stroke="#597fb1" stroke-width="0.45"/>
<rect x="367.58" y="115.64" width="9.75" height="9.69" fill="#0f3e80"/>
<rect x="367.80" y="115.87" width="9.30" height="9.24" fill="none" stroke="#5778a6" stroke-width="0.45"/>
<rect x="377.32" y="115.64" width="9.75" height="9.69" fill="#0f3e80"/>
<rect x="377.55" y="115.87" width="9.30" height="9.24" fill="none" stroke="#5778a6" stroke-width="0.45"/>
<rect x="387.07" y="115.64" width="9.75" height="9.69" fill="#0f3e80"/>
<rect x="387.29" y="115.87" width="9.30" height="9.24" fill="none" stroke="#5778a6" stroke-width="0.45"/>
<rect x="396.82" y="115.64" width="9.75" height="9.69" fill="#184f9a"/>
<rect x="397.04" y="115.87" width="9.30" height="9.24" fill="none" stroke="#5d84b8" stroke-width="0.45"/>
<rect x="406.56" y="115.64" width="9.75" height="9.69" fill="#184f9a"/>
<rect x="406.79" y="115.87" width="9.30" height="9.24" fill="none" stroke="#5d84b8" stroke-width="0.45"/>
<rect x="416.31" y="115.64" width="9.75" height="9.69" fill="#184f9a"/>
<rect x="416.54" y="115.87" width="9.30" height="9.24" fill="none" stroke="#5d84b8" stroke-width="0.45"/>
<rect x="426.06" y="115.64" width="9.75" height="9.69" fill="#1e5aa6"/>
<rect x="426.29" y="115.87" width="9.29" height="9.24" fill="none" stroke="#668ec2" stroke-width="0.46"/>
<rect x="435.81" y="115.64" width="9.75" height="9.69" fill="#1e5aa6"/>
<rect x="436.03" y="115.87" width="9.29" height="9.24" fill="none" stroke="#668ec2" stroke-width="0.46"/>
<rect x="445.55" y="115.64" width="9.75" height="9.69" fill="#1e5aa6"/>
<rect x="445.78" y="115.87" width="9.29" height="9.24" fill="none" stroke="#668ec2" stroke-width="0.46"/>
<rect x="279.85" y="125.34" width="9.75" height="9.69" fill="#3a84c8"/>
<rect x="280.23" y="125.71" width="9.00" height="8.94" fill="none" stroke="#ffffff" stroke-width="0.75"/>
<rect x="289.60" y="125.34" width="9.75" height="9.69" fill="#3a84c8"/>
<rect x="289.97" y="125.71" width="9.00" height="8.94" fill="none" stroke="#ffffff" stroke-width="0.75"/>
<rect x="299.34" y="125.34" width="9.75" height="9.69" fill="#3a84c8"/>
<rect x="299.72" y="125.71" width="9.00" height="8.94" fill="none" stroke="#ffffff" stroke-width="0.75"/>
<rect x="309.09" y="125.34" width="9.75" height="9.69" fill="#2a70b8"/>
<rect x="309.42" y="125.67" width="9.09" height="9.04" fill="none" stroke="#d1e0f0" stroke-width="0.66"/>
<rect x="318.84" y="125.34" width="9.75" height="9.69" fill="#2a70b8"/>
<rect x="319.17" y="125.67" width="9.09" height="9.04" fill="none" stroke="#d1e0f0" stroke-width="0.66"/>
<rect x="328.59" y="125.34" width="9.75" height="9.69" fill="#2a70b8"/>
<rect x="328.91" y="125.67" width="9.09" height="9.04" fill="none" stroke="#d1e0f0" stroke-width="0.66"/>
<rect x="338.33" y="125.34" width="9.75" height="9.69" fill="#124890"/>
<rect x="338.56" y="125.56" width="9.30" height="9.24" fill="none" stroke="#597fb1" stroke-width="0.45"/>
<rect x="348.08" y="125.34" width="9.75" height="9.69" fill="#124890"/>
<rect x="348.31" y="125.56" width="9.30" height="9.24" fill="none" stroke="#597fb1" stroke-width="0.45"/>
<rect x="357.83" y="125.34" width="9.75" height="9.69" fill="#124890"/>
<rect x="358.05" y="125.56" width="9.30" height="9.24" fill="none" stroke="#597fb1" stroke-width="0.45"/>
<rect x="367.58" y="125.34" width="9.75" height="9.69" fill="#0f3e80"/>
<rect x="367.80" y="125.56" width="9.30" height="9.24" fill="none" stroke="#5778a6" stroke-width="0.45"/>
<rect x="377.32" y="125.34" width="9.75" height="9.69" fill="#0f3e80"/>
<rect x="377.55" y="125.56" width="9.30" height="9.24" fill="none" stroke="#5778a6" stroke-width="0.45"/>
<rect x="387.07" y="125.34" width="9.75" height="9.69" fill="#0f3e80"/>
<rect x="387.29" y="125.56" width="9.30" height="9.24" fill="none" stroke="#5778a6" stroke-width="0.45"/>
<rect x="396.82" y="125.34" width="9.75" height="9.69" fill="#184f9a"/>
<rect x="397.04" y="125.56" width="9.30" height="9.24" fill="none" stroke="#5d84b8" stroke-width="0.45"/>
<rect x="406.56" y="125.34" width="9.75" height="9.69" fill="#184f9a"/>
<rect x="406.79" y="125.56" width="9.30" height="9.24" fill="none" stroke="#5d84b8" stroke-width="0.45"/>
<rect x="416.31" y="125.34" width="9.75" height="9.69" fill="#184f9a"/>
<rect x="416.54" y="125.56" width="9.30" height="9.24" fill="none" stroke="#5d84b8" stroke-width="0.45"/>
<rect x="426.06" y="125.34" width="9.75" height="9.69" fill="#1e5aa6"/>
<rect x="426.29" y="125.57" width="9.29" height="9.24" fill="none" stroke="#668ec2" stroke-width="0.46"/>
<rect x="435.81" y="125.34" width="9.75" height="9.69" fill="#1e5aa6"/>
<rect x="436.03" y="125.57" width="9.29" height="9.24" fill="none" stroke="#668ec2" stroke-width="0.46"/>
<rect x="445.55" y="125.34" width="9.75" height="9.69" fill="#1e5aa6"/>
<rect x="445.78" y="125.57" width="9.29" height="9.24" fill="none" stroke="#668ec2" stroke-width="0.46"/>
<rect x="279.85" y="135.03" width="9.75" height="9.69" fill="#3a82c6"/>
<rect x="280.23" y="135.41" width="9.00" height="8.94" fill="none" stroke="#ffffff" stroke-width="0.75"/>
<rect x="289.60" y="135.03" width="9.75" height="9.69" fill="#3a82c6"/>
<rect x="289.97" y="135.41" width="9.00" height="8.94" fill="none" stroke="#ffffff" stroke-width="0.75"/>
<rect x="299.34" y="135.03" width="9.75" height="9.69" fill="#3a82c6"/>
<rect x="299.72" y="135.41" width="9.00" height="8.94" fill="none" stroke="#ffffff" stroke-width="0.75"/>
<rect x="309.09" y="135.03" width="9.75" height="9.69" fill="#2a70b8"/>
<rect x="309.42" y="135.36" width="9.09" height="9.04" fill="none" stroke="#d1e0f0" stroke-width="0.66"/>
<rect x="318.84" y="135.03" width="9.75" height="9.69" fill="#2a70b8"/>
<rect x="319.17" y="135.36" width="9.09" height="9.04" fill="none" stroke="#d1e0f0" stroke-width="0.66"/>
<rect x="328.59" y="135.03" width="9.75" height="9.69" fill="#2a70b8"/>
<rect x="328.91" y="135.36" width="9.09" height="9.04" fill="none" stroke="#d1e0f0" stroke-width="0.66"/>
<rect x="338.33" y="135.03" width="9.75" height="9.69" fill="#2464ae"/>
<rect x="338.61" y="135.31" width="9.20" height="9.14" fill="none" stroke="#99b7d9" stroke-width="0.55"/>
<rect x="348.08" y="135.03" width="9.75" height="9.69" fill="#2464ae"/>
<rect x="348.36" y="135.31" width="9.20" height="9.14" fill="none" stroke="#99b7d9" stroke-width="0.55"/>
<rect x="357.83" y="135.03" width="9.75" height="9.69" fill="#2464ae"/>
<rect x="358.10" y="135.31" width="9.20" height="9.14" fill="none" stroke="#99b7d9" stroke-width="0.55"/>
<rect x="367.58" y="135.03" width="9.75" height="9.69" fill="#184f9a"/>
<rect x="367.80" y="135.26" width="9.30" height="9.24" fill="none" stroke="#5d84b8" stroke-width="0.45"/>
<rect x="377.32" y="135.03" width="9.75" height="9.69" fill="#184f9a"/>
<rect x="377.55" y="135.26" width="9.30" height="9.24" fill="none" stroke="#5d84b8" stroke-width="0.45"/>
<rect x="387.07" y="135.03" width="9.75" height="9.69" fill="#184f9a"/>
<rect x="387.29" y="135.26" width="9.30" height="9.24" fill="none" stroke="#5d84b8" stroke-width="0.45"/>
<rect x="396.82" y="135.03" width="9.75" height="9.69" fill="#0e3a7a"/>
<rect x="397.04" y="135.26" width="9.30" height="9.24" fill="none" stroke="#5675a2" stroke-width="0.45"/>
<rect x="406.56" y="135.03" width="9.75" height="9.69" fill="#0e3a7a"/>
<rect x="406.79" y="135.26" width="9.30" height="9.24" fill="none" stroke="#5675a2" stroke-width="0.45"/>
<rect x="416.31" y="135.03" width="9.75" height="9.69" fill="#0e3a7a"/>
<rect x="416.54" y="135.26" width="9.30" height="9.24" fill="none" stroke="#5675a2" stroke-width="0.45"/>
<rect x="426.06" y="135.03" width="9.75" height="9.69" fill="#134384"/>
<rect x="426.28" y="135.26" width="9.30" height="9.24" fill="none" stroke="#5a7ba9" stroke-width="0.45"/>
<rect x="435.81" y="135.03" width="9.75" height="9.69" fill="#134384"/>
<rect x="436.03" y="135.26" width="9.30" height="9.24" fill="none" stroke="#5a7ba9" stroke-width="0.45"/>
<rect x="445.55" y="135.03" width="9.75" height="9.69" fill="#134384"/>
<rect x="445.78" y="135.26" width="9.30" height="9.24" fill="none" stroke="#5a7ba9" stroke-width="0.45"/>
<rect x="279.85" y="144.73" width="9.75" height="9.69" fill="#3a82c6"/>
<rect x="280.23" y="145.10" width="9.00" height="8.94" fill="none" stroke="#ffffff" stroke-width="0.75"/>
<rect x="289.60" y="144.73" width="9.75" height="9.69" fill="#3a82c6"/>
<rect x="289.97" y="145.10" width="9.00" height="8.94" fill="none" stroke="#ffffff" stroke-width="0.75"/>
<rect x="299.34" y="144.73" width="9.75" height="9.69" fill="#3a82c6"/>
<rect x="299.72" y="145.10" width="9.00" height="8.94" fill="none" stroke="#ffffff" stroke-width="0.75"/>
<rect x="309.09" y="144.73" width="9.75" height="9.69" fill="#2a70b8"/>
<rect x="309.42" y="145.06" width="9.09" height="9.04" fill="none" stroke="#d1e0f0" stroke-width="0.66"/>
<rect x="318.84" y="144.73" width="9.75" height="9.69" fill="#2a70b8"/>
<rect x="319.17" y="145.06" width="9.09" height="9.04" fill="none" stroke="#d1e0f0" stroke-width="0.66"/>
<rect x="328.59" y="144.73" width="9.75" height="9.69" fill="#2a70b8"/>
<rect x="328.91" y="145.06" width="9.09" height="9.04" fill="none" stroke="#d1e0f0" stroke-width="0.66"/>
<rect x="338.33" y="144.73" width="9.75" height="9.69" fill="#2464ae"/>
<rect x="338.61" y="145.00" width="9.20" height="9.14" fill="none" stroke="#99b7d9" stroke-width="0.55"/>
<rect x="348.08" y="144.73" width="9.75" height="9.69" fill="#2464ae"/>
<rect x="348.36" y="145.00" width="9.20" height="9.14" fill="none" stroke="#99b7d9" stroke-width="0.55"/>
<rect x="357.83" y="144.73" width="9.75" height="9.69" fill="#2464ae"/>
<rect x="358.10" y="145.00" width="9.20" height="9.14" fill="none" stroke="#99b7d9" stroke-width="0.55"/>
<rect x="367.58" y="144.73" width="9.75" height="9.69" fill="#184f9a"/>
<rect x="367.80" y="144.95" width="9.30" height="9.24" fill="none" stroke="#5d84b8" stroke-width="0.45"/>
<rect x="377.32" y="144.73" width="9.75" height="9.69" fill="#184f9a"/>
<rect x="377.55" y="144.95" width="9.30" height="9.24" fill="none" stroke="#5d84b8" stroke-width="0.45"/>
<rect x="387.07" y="144.73" width="9.75" height="9.69" fill="#184f9a"/>
<rect x="387.29" y="144.95" width="9.30" height="9.24" fill="none" stroke="#5d84b8" stroke-width="0.45"/>
<rect x="396.82" y="144.73" width="9.75" height="9.69" fill="#0e3a7a"/>
<rect x="397.04" y="144.95" width="9.30" height="9.24" fill="none" stroke="#5675a2" stroke-width="0.45"/>
<rect x="406.56" y="144.73" width="9.75" height="9.69" fill="#0e3a7a"/>
<rect x="406.79" y="144.95" width="9.30" height="9.24" fill="none" stroke="#5675a2" stroke-width="0.45"/>
<rect x="416.31" y="144.73" width="9.75" height="9.69" fill="#0e3a7a"/>
<rect x="416.54" y="144.95" width="9.30" height="9.24" fill="none" stroke="#5675a2" stroke-width="0.45"/>
<rect x="426.06" y="144.73" width="9.75" height="9.69" fill="#134384"/>
<rect x="426.28" y="144.95" width="9.30" height="9.24" fill="none" stroke="#5a7ba9" stroke-width="0.45"/>
<rect x="435.81" y="144.73" width="9.75" height="9.69" fill="#134384"/>
<rect x="436.03" y="144.95" width="9.30" height="9.24" fill="none" stroke="#5a7ba9" stroke-width="0.45"/>
<rect x="445.55" y="144.73" width="9.75" height="9.69" fill="#134384"/>
<rect x="445.78" y="144.95" width="9.30" height="9.24" fill="none" stroke="#5a7ba9" stroke-width="0.45"/>
<rect x="279.85" y="154.42" width="9.75" height="9.69" fill="#3a82c6"/>
<rect x="280.23" y="154.80" width="9.00" height="8.94" fill="none" stroke="#ffffff" stroke-width="0.75"/>
<rect x="289.60" y="154.42" width="9.75" height="9.69" fill="#3a82c6"/>
<rect x="289.97" y="154.80" width="9.00" height="8.94" fill="none" stroke="#ffffff" stroke-width="0.75"/>
<rect x="299.34" y="154.42" width="9.75" height="9.69" fill="#3a82c6"/>
<rect x="299.72" y="154.80" width="9.00" height="8.94" fill="none" stroke="#ffffff" stroke-width="0.75"/>
<rect x="309.09" y="154.42" width="9.75" height="9.69" fill="#2a70b8"/>
<rect x="309.42" y="154.75" width="9.09" height="9.04" fill="none" stroke="#d1e0f0" stroke-width="0.66"/>
<rect x="318.84" y="154.42" width="9.75" height="9.69" fill="#2a70b8"/>
<rect x="319.17" y="154.75" width="9.09" height="9.04" fill="none" stroke="#d1e0f0" stroke-width="0.66"/>
<rect x="328.59" y="154.42" width="9.75" height="9.69" fill="#2a70b8"/>
<rect x="328.91" y="154.75" width="9.09" height="9.04" fill="none" stroke="#d1e0f0" stroke-width="0.66"/>
<rect x="338.33" y="154.42" width="9.75" height="9.69" fill="#2464ae"/>
<rect x="338.61" y="154.70" width="9.20" height="9.14" fill="none" stroke="#99b7d9" stroke-width="0.55"/>
<rect x="348.08" y="154.42" width="9.75" height="9.69" fill="#2464ae"/>
<rect x="348.36" y="154.70" width="9.20" height="9.14" fill="none" stroke="#99b7d9" stroke-width="0.55"/>
<rect x="357.83" y="154.42" width="9.75" height="9.69" fill="#2464ae"/>
<rect x="358.10" y="154.70" width="9.20" height="9.14" fill="none" stroke="#99b7d9" stroke-width="0.55"/>
<rect x="367.58" y="154.42" width="9.75" height="9.69" fill="#184f9a"/>
<rect x="367.80" y="154.65" width="9.30" height="9.24" fill="none" stroke="#5d84b8" stroke-width="0.45"/>
<rect x="377.32" y="154.42" width="9.75" height="9.69" fill="#184f9a"/>
<rect x="377.55" y="154.65" width="9.30" height="9.24" fill="none" stroke="#5d84b8" stroke-width="0.45"/>
<rect x="387.07" y="154.42" width="9.75" height="9.69" fill="#184f9a"/>
<rect x="387.29" y="154.65" width="9.30" height="9.24" fill="none" stroke="#5d84b8" stroke-width="0.45"/>
<rect x="396.82" y="154.42" width="9.75" height="9.69" fill="#0e3a7a"/>
<rect x="397.04" y="154.65" width="9.30" height="9.24" fill="none" stroke="#5675a2" stroke-width="0.45"/>
<rect x="406.56" y="154.42" width="9.75" height="9.69" fill="#0e3a7a"/>
<rect x="406.79" y="154.65" width="9.30" height="9.24" fill="none" stroke="#5675a2" stroke-width="0.45"/>
<rect x="416.31" y="154.42" width="9.75" height="9.69" fill="#0e3a7a"/>
<rect x="416.54" y="154.65" width="9.30" height="9.24" fill="none" stroke="#5675a2" stroke-width="0.45"/>
<rect x="426.06" y="154.42" width="9.75" height="9.69" fill="#134384"/>
<rect x="426.28" y="154.65" width="9.30" height="9.24" fill="none" stroke="#5a7ba9" stroke-width="0.45"/>
<rect x="435.81" y="154.42" width="9.75" height="9.69" fill="#134384"/>
<rect x="436.03" y="154.65" width="9.30" height="9.24" fill="none" stroke="#5a7ba9" stroke-width="0.45"/>
<rect x="445.55" y="154.42" width="9.75" height="9.69" fill="#134384"/>
<rect x="445.78" y="154.65" width="9.30" height="9.24" fill="none" stroke="#5a7ba9" stroke-width="0.45"/>
<rect x="279.85" y="164.12" width="9.75" height="9.69" fill="#3a84c8"/>
<rect x="280.23" y="164.49" width="9.00" height="8.94" fill="none" stroke="#ffffff" stroke-width="0.75"/>
<rect x="289.60" y="164.12" width="9.75" height="9.69" fill="#3a84c8"/>
<rect x="289.97" y="164.49" width="9.00" height="8.94" fill="none" stroke="#ffffff" stroke-width="0.75"/>
<rect x="299.34" y="164.12" width="9.75" height="9.69" fill="#3a84c8"/>
<rect x="299.72" y="164.49" width="9.00" height="8.94" fill="none" stroke="#ffffff" stroke-width="0.75"/>
<rect x="309.09" y="164.12" width="9.75" height="9.69" fill="#3078c0"/>
<rect x="309.46" y="164.48" width="9.01" height="8.96" fill="none" stroke="#f8fbfd" stroke-width="0.74"/>
<rect x="318.84" y="164.12" width="9.75" height="9.69" fill="#3078c0"/>
<rect x="319.21" y="164.48" width="9.01" height="8.96" fill="none" stroke="#f8fbfd" stroke-width="0.74"/>
<rect x="328.59" y="164.12" width="9.75" height="9.69" fill="#3078c0"/>
<rect x="328.95" y="164.48" width="9.01" height="8.96" fill="none" stroke="#f8fbfd" stroke-width="0.74"/>
<rect x="338.33" y="164.12" width="9.75" height="9.69" fill="#2e78c0"/>
<rect x="338.70" y="164.48" width="9.02" height="8.96" fill="none" stroke="#f5f9fc" stroke-width="0.73"/>
<rect x="348.08" y="164.12" width="9.75" height="9.69" fill="#2e78c0"/>
<rect x="348.45" y="164.48" width="9.02" height="8.96" fill="none" stroke="#f5f9fc" stroke-width="0.73"/>
<rect x="357.83" y="164.12" width="9.75" height="9.69" fill="#2e78c0"/>
<rect x="358.19" y="164.48" width="9.02" height="8.96" fill="none" stroke="#f5f9fc" stroke-width="0.73"/>
<rect x="367.58" y="164.12" width="9.75" height="9.69" fill="#2468b2"/>
<rect x="367.86" y="164.41" width="9.17" height="9.11" fill="none" stroke="#a8c3e0" stroke-width="0.58"/>
<rect x="377.32" y="164.12" width="9.75" height="9.69" fill="#2468b2"/>
<rect x="377.61" y="164.41" width="9.17" height="9.11" fill="none" stroke="#a8c3e0" stroke-width="0.58"/>
<rect x="387.07" y="164.12" width="9.75" height="9.69" fill="#2468b2"/>
<rect x="387.36" y="164.41" width="9.17" height="9.11" fill="none" stroke="#a8c3e0" stroke-width="0.58"/>
<rect x="396.82" y="164.12" width="9.75" height="9.69" fill="#144686"/>
<rect x="397.04" y="164.34" width="9.30" height="9.24" fill="none" stroke="#5a7eaa" stroke-width="0.45"/>
<rect x="406.56" y="164.12" width="9.75" height="9.69" fill="#144686"/>
<rect x="406.79" y="164.34" width="9.30" height="9.24" fill="none" stroke="#5a7eaa" stroke-width="0.45"/>
<rect x="416.31" y="164.12" width="9.75" height="9.69" fill="#144686"/>
<rect x="416.54" y="164.34" width="9.30" height="9.24" fill="none" stroke="#5a7eaa" stroke-width="0.45"/>
<rect x="426.06" y="164.12" width="9.75" height="9.69" fill="#0e3a7c"/>
<rect x="426.28" y="164.34" width="9.30" height="9.24" fill="none" stroke="#5675a3" stroke-width="0.45"/>
<rect x="435.81" y="164.12" width="9.75" height="9.69" fill="#0e3a7c"/>
<rect x="436.03" y="164.34" width="9.30" height="9.24" fill="none" stroke="#5675a3" stroke-width="0.45"/>
<rect x="445.55" y="164.12" width="9.75" height="9.69" fill="#0e3a7c"/>
<rect x="445.78" y="164.34" width="9.30" height="9.24" fill="none" stroke="#5675a3" stroke-width="0.45"/>
<rect x="279.85" y="173.81" width="9.75" height="9.69" fill="#3a84c8"/>
<rect x="280.23" y="174.19" width="9.00" height="8.94" fill="none" stroke="#ffffff" stroke-width="0.75"/>
<rect x="289.60" y="173.81" width="9.75" height="9.69" fill="#3a84c8"/>
<rect x="289.97" y="174.19" width="9.00" height="8.94" fill="none" stroke="#ffffff" stroke-width="0.75"/>
<rect x="299.34" y="173.81" width="9.75" height="9.69" fill="#3a84c8"/>
<rect x="299.72" y="174.19" width="9.00" height="8.94" fill="none" stroke="#ffffff" stroke-width="0.75"/>
<rect x="309.09" y="173.81" width="9.75" height="9.69" fill="#3078c0"/>
<rect x="309.46" y="174.18" width="9.01" height="8.96" fill="none" stroke="#f8fbfd" stroke-width="0.74"/>
<rect x="318.84" y="173.81" width="9.75" height="9.69" fill="#3078c0"/>
<rect x="319.21" y="174.18" width="9.01" height="8.96" fill="none" stroke="#f8fbfd" stroke-width="0.74"/>
<rect x="328.59" y="173.81" width="9.75" height="9.69" fill="#3078c0"/>
<rect x="328.95" y="174.18" width="9.01" height="8.96" fill="none" stroke="#f8fbfd" stroke-width="0.74"/>
<rect x="338.33" y="173.81" width="9.75" height="9.69" fill="#2e78c0"/>
<rect x="338.70" y="174.18" width="9.02" height="8.96" fill="none" stroke="#f5f9fc" stroke-width="0.73"/>
<rect x="348.08" y="173.81" width="9.75" height="9.69" fill="#2e78c0"/>
<rect x="348.45" y="174.18" width="9.02" height="8.96" fill="none" stroke="#f5f9fc" stroke-width="0.73"/>
<rect x="357.83" y="173.81" width="9.75" height="9.69" fill="#2e78c0"/>
<rect x="358.19" y="174.18" width="9.02" height="8.96" fill="none" stroke="#f5f9fc" stroke-width="0.73"/>
<rect x="367.58" y="173.81" width="9.75" height="9.69" fill="#2468b2"/>
<rect x="367.86" y="174.10" width="9.17" height="9.11" fill="none" stroke="#a8c3e0" stroke-width="0.58"/>
<rect x="377.32" y="173.81" width="9.75" height="9.69" fill="#2468b2"/>
<rect x="377.61" y="174.10" width="9.17" height="9.11" fill="none" stroke="#a8c3e0" stroke-width="0.58"/>
<rect x="387.07" y="173.81" width="9.75" height="9.69" fill="#2468b2"/>
<rect x="387.36" y="174.10" width="9.17" height="9.11" fill="none" stroke="#a8c3e0" stroke-width="0.58"/>
<rect x="396.82" y="173.81" width="9.75" height="9.69" fill="#144686"/>
<rect x="397.04" y="174.04" width="9.30" height="9.24" fill="none" stroke="#5a7eaa" stroke-width="0.45"/>
<rect x="406.56" y="173.81" width="9.75" height="9.69" fill="#144686"/>
<rect x="406.79" y="174.04" width="9.30" height="9.24" fill="none" stroke="#5a7eaa" stroke-width="0.45"/>
<rect x="416.31" y="173.81" width="9.75" height="9.69" fill="#144686"/>
<rect x="416.54" y="174.04" width="9.30" height="9.24" fill="none" stroke="#5a7eaa" stroke-width="0.45"/>
<rect x="426.06" y="173.81" width="9.75" height="9.69" fill="#0e3a7c"/>
<rect x="426.28" y="174.04" width="9.30" height="9.24" fill="none" stroke="#5675a3" stroke-width="0.45"/>
<rect x="435.81" y="173.81" width="9.75" height="9.69" fill="#0e3a7c"/>
<rect x="436.03" y="174.04" width="9.30" height="9.24" fill="none" stroke="#5675a3" stroke-width="0.45"/>
<rect x="445.55" y="173.81" width="9.75" height="9.69" fill="#0e3a7c"/>
<rect x="445.78" y="174.04" width="9.30" height="9.24" fill="none" stroke="#5675a3" stroke-width="0.45"/>
<rect x="279.85" y="183.51" width="9.75" height="9.69" fill="#3a84c8"/>
<rect x="280.23" y="183.88" width="9.00" height="8.94" fill="none" stroke="#ffffff" stroke-width="0.75"/>
<rect x="289.60" y="183.51" width="9.75" height="9.69" fill="#3a84c8"/>
<rect x="289.97" y="183.88" width="9.00" height="8.94" fill="none" stroke="#ffffff" stroke-width="0.75"/>
<rect x="299.34" y="183.51" width="9.75" height="9.69" fill="#3a84c8"/>
<rect x="299.72" y="183.88" width="9.00" height="8.94" fill="none" stroke="#ffffff" stroke-width="0.75"/>
<rect x="309.09" y="183.51" width="9.75" height="9.69" fill="#3078c0"/>
<rect x="309.46" y="183.87" width="9.01" height="8.96" fill="none" stroke="#f8fbfd" stroke-width="0.74"/>
<rect x="318.84" y="183.51" width="9.75" height="9.69" fill="#3078c0"/>
<rect x="319.21" y="183.87" width="9.01" height="8.96" fill="none" stroke="#f8fbfd" stroke-width="0.74"/>
<rect x="328.59" y="183.51" width="9.75" height="9.69" fill="#3078c0"/>
<rect x="328.95" y="183.87" width="9.01" height="8.96" fill="none" stroke="#f8fbfd" stroke-width="0.74"/>
<rect x="338.33" y="183.51" width="9.75" height="9.69" fill="#2e78c0"/>
<rect x="338.70" y="183.87" width="9.02" height="8.96" fill="none" stroke="#f5f9fc" stroke-width="0.73"/>
<rect x="348.08" y="183.51" width="9.75" height="9.69" fill="#2e78c0"/>
<rect x="348.45" y="183.87" width="9.02" height="8.96" fill="none" stroke="#f5f9fc" stroke-width="0.73"/>
<rect x="357.83" y="183.51" width="9.75" height="9.69" fill="#2e78c0"/>
<rect x="358.19" y="183.87" width="9.02" height="8.96" fill="none" stroke="#f5f9fc" stroke-width="0.73"/>
<rect x="367.58" y="183.51" width="9.75" height="9.69" fill="#2468b2"/>
<rect x="367.86" y="183.80" width="9.17" height="9.11" fill="none" stroke="#a8c3e0" stroke-width="0.58"/>
<rect x="377.32" y="183.51" width="9.75" height="9.69" fill="#2468b2"/>
<rect x="377.61" y="183.80" width="9.17" height="9.11" fill="none" stroke="#a8c3e0" stroke-width="0.58"/>
<rect x="387.07" y="183.51" width="9.75" height="9.69" fill="#2468b2"/>
<rect x="387.36" y="183.80" width="9.17" height="9.11" fill="none" stroke="#a8c3e0" stroke-width="0.58"/>
<rect x="396.82" y="183.51" width="9.75" height="9.69" fill="#144686"/>
<rect x="397.04" y="183.73" width="9.30" height="9.24" fill="none" stroke="#5a7eaa" stroke-width="0.45"/>
<rect x="406.56" y="183.51" width="9.75" height="9.69" fill="#144686"/>
<rect x="406.79" y="183.73" width="9.30" height="9.24" fill="none" stroke="#5a7eaa" stroke-width="0.45"/>
<rect x="416.31" y="183.51" width="9.75" height="9.69" fill="#144686"/>
<rect x="416.54" y="183.73" width="9.30" height="9.24" fill="none" stroke="#5a7eaa" stroke-width="0.45"/>
<rect x="426.06" y="183.51" width="9.75" height="9.69" fill="#0e3a7c"/>
<rect x="426.28" y="183.73" width="9.30" height="9.24" fill="none" stroke="#5675a3" stroke-width="0.45"/>
<rect x="435.81" y="183.51" width="9.75" height="9.69" fill="#0e3a7c"/>
<rect x="436.03" y="183.73" width="9.30" height="9.24" fill="none" stroke="#5675a3" stroke-width="0.45"/>
<rect x="445.55" y="183.51" width="9.75" height="9.69" fill="#0e3a7c"/>
<rect x="445.78" y="183.73" width="9.30" height="9.24" fill="none" stroke="#5675a3" stroke-width="0.45"/>
<text transform="translate(278.00 25.75) scale(0.92 1)" font-size="7.4" fill="#1a1a1a" stroke="#1a1a1a" stroke-width="0.05" text-anchor="end">NaHS+NaCl-2</text>
<text transform="translate(278.00 35.44) scale(0.92 1)" font-size="7.4" fill="#1a1a1a" stroke="#1a1a1a" stroke-width="0.05" text-anchor="end">NaHS+NaCl-1</text>
<text transform="translate(278.00 45.14) scale(0.92 1)" font-size="7.4" fill="#1a1a1a" stroke="#1a1a1a" stroke-width="0.05" text-anchor="end">NaHS+NaCl-3</text>
<text transform="translate(278.00 54.83) scale(0.92 1)" font-size="7.4" fill="#1a1a1a" stroke="#1a1a1a" stroke-width="0.05" text-anchor="end">NaCl-2</text>
<text transform="translate(278.00 64.53) scale(0.92 1)" font-size="7.4" fill="#1a1a1a" stroke="#1a1a1a" stroke-width="0.05" text-anchor="end">NaCl-1</text>
<text transform="translate(278.00 74.22) scale(0.92 1)" font-size="7.4" fill="#1a1a1a" stroke="#1a1a1a" stroke-width="0.05" text-anchor="end">NaCl-3</text>
<text transform="translate(278.00 83.91) scale(0.92 1)" font-size="7.4" fill="#1a1a1a" stroke="#1a1a1a" stroke-width="0.05" text-anchor="end">SNP+NaCl-2</text>
<text transform="translate(278.00 93.61) scale(0.92 1)" font-size="7.4" fill="#1a1a1a" stroke="#1a1a1a" stroke-width="0.05" text-anchor="end">SNP+NaCl-3</text>
<text transform="translate(278.00 103.30) scale(0.92 1)" font-size="7.4" fill="#1a1a1a" stroke="#1a1a1a" stroke-width="0.05" text-anchor="end">SNP+NaCl-1</text>
<text transform="translate(278.00 113.00) scale(0.92 1)" font-size="7.4" fill="#1a1a1a" stroke="#1a1a1a" stroke-width="0.05" text-anchor="end">CK-3</text>
<text transform="translate(278.00 122.69) scale(0.92 1)" font-size="7.4" fill="#1a1a1a" stroke="#1a1a1a" stroke-width="0.05" text-anchor="end">CK-2</text>
<text transform="translate(278.00 132.39) scale(0.92 1)" font-size="7.4" fill="#1a1a1a" stroke="#1a1a1a" stroke-width="0.05" text-anchor="end">CK-1</text>
<text transform="translate(278.00 142.08) scale(0.92 1)" font-size="7.4" fill="#1a1a1a" stroke="#1a1a1a" stroke-width="0.05" text-anchor="end">SNP-2</text>
<text transform="translate(278.00 151.77) scale(0.92 1)" font-size="7.4" fill="#1a1a1a" stroke="#1a1a1a" stroke-width="0.05" text-anchor="end">SNP-1</text>
<text transform="translate(278.00 161.47) scale(0.92 1)" font-size="7.4" fill="#1a1a1a" stroke="#1a1a1a" stroke-width="0.05" text-anchor="end">SNP-3</text>
<text transform="translate(278.00 171.16) scale(0.92 1)" font-size="7.4" fill="#1a1a1a" stroke="#1a1a1a" stroke-width="0.05" text-anchor="end">NaHS-1</text>
<text transform="translate(278.00 180.86) scale(0.92 1)" font-size="7.4" fill="#1a1a1a" stroke="#1a1a1a" stroke-width="0.05" text-anchor="end">NaHS-3</text>
<text transform="translate(278.00 190.55) scale(0.92 1)" font-size="7.4" fill="#1a1a1a" stroke="#1a1a1a" stroke-width="0.05" text-anchor="end">NaHS-2</text>
<text transform="translate(287.82 195.80) rotate(-90) scale(0.95 1)" font-size="7.4" fill="#1a1a1a" stroke="#1a1a1a" stroke-width="0.05" text-anchor="end">NaHS+NaCl-2</text>
<text transform="translate(297.57 195.80) rotate(-90) scale(0.95 1)" font-size="7.4" fill="#1a1a1a" stroke="#1a1a1a" stroke-width="0.05" text-anchor="end">NaHS+NaCl-1</text>
<text transform="translate(307.32 195.80) rotate(-90) scale(0.95 1)" font-size="7.4" fill="#1a1a1a" stroke="#1a1a1a" stroke-width="0.05" text-anchor="end">NaHS+NaCl-3</text>
<text transform="translate(317.07 195.80) rotate(-90) scale(0.95 1)" font-size="7.4" fill="#1a1a1a" stroke="#1a1a1a" stroke-width="0.05" text-anchor="end">NaCl-2</text>
<text transform="translate(326.81 195.80) rotate(-90) scale(0.95 1)" font-size="7.4" fill="#1a1a1a" stroke="#1a1a1a" stroke-width="0.05" text-anchor="end">NaCl-1</text>
<text transform="translate(336.56 195.80) rotate(-90) scale(0.95 1)" font-size="7.4" fill="#1a1a1a" stroke="#1a1a1a" stroke-width="0.05" text-anchor="end">NaCl-3</text>
<text transform="translate(346.31 195.80) rotate(-90) scale(0.95 1)" font-size="7.4" fill="#1a1a1a" stroke="#1a1a1a" stroke-width="0.05" text-anchor="end">SNP+NaCl-2</text>
<text transform="translate(356.05 195.80) rotate(-90) scale(0.95 1)" font-size="7.4" fill="#1a1a1a" stroke="#1a1a1a" stroke-width="0.05" text-anchor="end">SNP+NaCl-3</text>
<text transform="translate(365.80 195.80) rotate(-90) scale(0.95 1)" font-size="7.4" fill="#1a1a1a" stroke="#1a1a1a" stroke-width="0.05" text-anchor="end">SNP+NaCl-1</text>
<text transform="translate(375.55 195.80) rotate(-90) scale(0.95 1)" font-size="7.4" fill="#1a1a1a" stroke="#1a1a1a" stroke-width="0.05" text-anchor="end">CK-3</text>
<text transform="translate(385.30 195.80) rotate(-90) scale(0.95 1)" font-size="7.4" fill="#1a1a1a" stroke="#1a1a1a" stroke-width="0.05" text-anchor="end">CK-2</text>
<text transform="translate(395.04 195.80) rotate(-90) scale(0.95 1)" font-size="7.4" fill="#1a1a1a" stroke="#1a1a1a" stroke-width="0.05" text-anchor="end">CK-1</text>
<text transform="translate(404.79 195.80) rotate(-90) scale(0.95 1)" font-size="7.4" fill="#1a1a1a" stroke="#1a1a1a" stroke-width="0.05" text-anchor="end">SNP-2</text>
<text transform="translate(414.54 195.80) rotate(-90) scale(0.95 1)" font-size="7.4" fill="#1a1a1a" stroke="#1a1a1a" stroke-width="0.05" text-anchor="end">SNP-1</text>
<text transform="translate(424.28 195.80) rotate(-90) scale(0.95 1)" font-size="7.4" fill="#1a1a1a" stroke="#1a1a1a" stroke-width="0.05" text-anchor="end">SNP-3</text>
<text transform="translate(434.03 195.80) rotate(-90) scale(0.95 1)" font-size="7.4" fill="#1a1a1a" stroke="#1a1a1a" stroke-width="0.05" text-anchor="end">NaHS-1</text>
<text transform="translate(443.78 195.80) rotate(-90) scale(0.95 1)" font-size="7.4" fill="#1a1a1a" stroke="#1a1a1a" stroke-width="0.05" text-anchor="end">NaHS-3</text>
<text transform="translate(453.53 195.80) rotate(-90) scale(0.95 1)" font-size="7.4" fill="#1a1a1a" stroke="#1a1a1a" stroke-width="0.05" text-anchor="end">NaHS-2</text>
<defs><linearGradient id="cb" x1="0" y1="1" x2="0" y2="0">
<stop offset="0.00" stop-color="#67001F"/>
<stop offset="0.10" stop-color="#B2182B"/>
<stop offset="0.20" stop-color="#D6604D"/>
<stop offset="0.30" stop-color="#F4A582"/>
<stop offset="0.40" stop-color="#FDDBC7"/>
<stop offset="0.50" stop-color="#F7F7F7"/>
<stop offset="0.60" stop-color="#D1E5F0"/>
<stop offset="0.70" stop-color="#92C5DE"/>
<stop offset="0.80" stop-color="#4393C3"/>
<stop offset="0.90" stop-color="#2166AC"/>
<stop offset="1.00" stop-color="#053061"/>
</linearGradient></defs>
<rect x="458.8" y="18.7" width="7.0" height="175.60000000000002" fill="url(#cb)" stroke="#999" stroke-opacity="0.8" stroke-width="0.6"/>
<text transform="translate(473.90 21.80) scale(0.92 1)" font-size="7.3" fill="#222" stroke="#222" stroke-width="0.05" text-anchor="middle">1.0</text>
<line x1="465.40" y1="19.30" x2="466.80" y2="19.30" stroke="#666" stroke-width="0.6"/>
<text transform="translate(473.90 39.23) scale(0.92 1)" font-size="7.3" fill="#222" stroke="#222" stroke-width="0.05" text-anchor="middle">0.8</text>
<line x1="465.40" y1="36.73" x2="466.80" y2="36.73" stroke="#666" stroke-width="0.6"/>
<text transform="translate(473.90 56.66) scale(0.92 1)" font-size="7.3" fill="#222" stroke="#222" stroke-width="0.05" text-anchor="middle">0.6</text>
<line x1="465.40" y1="54.16" x2="466.80" y2="54.16" stroke="#666" stroke-width="0.6"/>
<text transform="translate(473.90 74.09) scale(0.92 1)" font-size="7.3" fill="#222" stroke="#222" stroke-width="0.05" text-anchor="middle">0.4</text>
<line x1="465.40" y1="71.59" x2="466.80" y2="71.59" stroke="#666" stroke-width="0.6"/>
<text transform="translate(473.90 91.52) scale(0.92 1)" font-size="7.3" fill="#222" stroke="#222" stroke-width="0.05" text-anchor="middle">0.2</text>
<line x1="465.40" y1="89.02" x2="466.80" y2="89.02" stroke="#666" stroke-width="0.6"/>
<text transform="translate(473.90 108.95) scale(0.92 1)" font-size="7.3" fill="#222" stroke="#222" stroke-width="0.05" text-anchor="middle">0</text>
<line x1="465.40" y1="106.45" x2="466.80" y2="106.45" stroke="#666" stroke-width="0.6"/>
<text transform="translate(473.90 126.38) scale(0.92 1)" font-size="7.3" fill="#222" stroke="#222" stroke-width="0.05" text-anchor="middle">-0.2</text>
<line x1="465.40" y1="123.88" x2="466.80" y2="123.88" stroke="#666" stroke-width="0.6"/>
<text transform="translate(473.90 143.81) scale(0.92 1)" font-size="7.3" fill="#222" stroke="#222" stroke-width="0.05" text-anchor="middle">-0.4</text>
<line x1="465.40" y1="141.31" x2="466.80" y2="141.31" stroke="#666" stroke-width="0.6"/>
<text transform="translate(473.90 161.24) scale(0.92 1)" font-size="7.3" fill="#222" stroke="#222" stroke-width="0.05" text-anchor="middle">-0.6</text>
<line x1="465.40" y1="158.74" x2="466.80" y2="158.74" stroke="#666" stroke-width="0.6"/>
<text transform="translate(473.90 178.67) scale(0.92 1)" font-size="7.3" fill="#222" stroke="#222" stroke-width="0.05" text-anchor="middle">-0.8</text>
<line x1="465.40" y1="176.17" x2="466.80" y2="176.17" stroke="#666" stroke-width="0.6"/>
<text transform="translate(473.90 196.10) scale(0.92 1)" font-size="7.3" fill="#222" stroke="#222" stroke-width="0.05" text-anchor="middle">-1.0</text>
<line x1="465.40" y1="193.60" x2="466.80" y2="193.60" stroke="#666" stroke-width="0.6"/>
</svg></body></html>
